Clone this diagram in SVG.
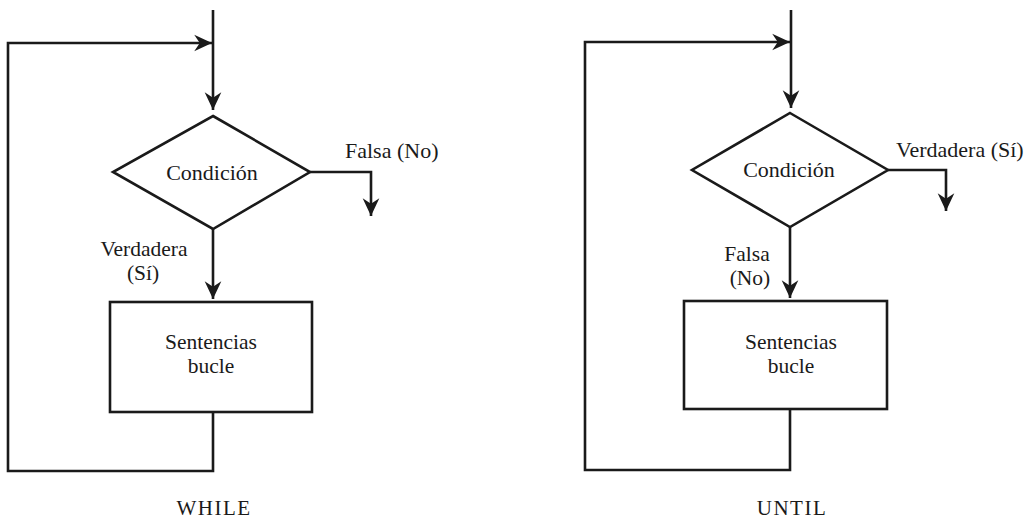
<svg xmlns="http://www.w3.org/2000/svg" width="1030" height="518" viewBox="0 0 1030 518">
  <style>
    .shape { fill: none; stroke: #1a1a1a; stroke-width: 2.6; }
    .line { fill: none; stroke: #1a1a1a; stroke-width: 2.6; stroke-linejoin: miter; }
    .arrow { marker-end: url(#head); }
    text { font-family: 'Liberation Serif', 'DejaVu Serif', serif; font-size: 22px; fill: #1a1a1a; }
    .mid { text-anchor: middle; }
    .stack { font-size: 21.5px; }
    .title { font-size: 21px; letter-spacing: 1.5px; }
  </style>
  <defs>
    <marker id="head" markerUnits="userSpaceOnUse" markerWidth="20" markerHeight="18" viewBox="-17 -8 18 16" refX="0" refY="0" orient="auto">
      <path d="M0,0 L-16,-7.5 L-11,0 L-16,7.5 Z" fill="#1a1a1a"/>
    </marker>
  </defs>

  <rect width="1030" height="518" fill="#ffffff"/>

  <g font-family="'Liberation Serif', 'DejaVu Serif', serif">
    <!-- WHILE loop -->
    <g id="while-condition">
      <polygon class="shape" points="213,116 310,172 213,229 113,172"/>
      <text class="mid" x="212" y="180">Condición</text>
    </g>
    <g id="while-body">
      <rect class="shape" x="110" y="302" width="202" height="110"/>
      <text class="mid stack" x="211" y="349">Sentencias</text>
      <text class="mid stack" x="211" y="373">bucle</text>
    </g>
    <g id="while-labels">
      <text x="345" y="158">Falsa (No)</text>
      <text class="mid stack" x="144" y="256">Verdadera</text>
      <text class="mid stack" x="143" y="280">(Sí)</text>
      <text class="mid title" x="214" y="515">WHILE</text>
    </g>

    <!-- UNTIL loop -->
    <g id="until-condition">
      <polygon class="shape" points="790,113 888,170 790,227 692,170"/>
      <text class="mid" x="789" y="177">Condición</text>
    </g>
    <g id="until-body">
      <rect class="shape" x="684" y="301" width="203" height="108"/>
      <text class="mid stack" x="791" y="349">Sentencias</text>
      <text class="mid stack" x="791" y="373">bucle</text>
    </g>
    <g id="until-labels">
      <text x="896" y="157">Verdadera (Sí)</text>
      <text class="mid stack" x="747" y="261">Falsa</text>
      <text class="mid stack" x="750" y="285">(No)</text>
      <text class="mid title" x="792" y="515">UNTIL</text>
    </g>
  </g>

  <g id="connectors">
    <!-- WHILE -->
    <path class="line arrow" d="M213,10 L213,110"/>
    <path class="line arrow" d="M310,172 L371,172 L371,216"/>
    <path class="line arrow" d="M213,229 L213,299"/>
    <path class="line arrow" d="M213,412 L213,471 L8,471 L8,43 L212,43"/>
    <!-- UNTIL -->
    <path class="line arrow" d="M791,10 L791,108"/>
    <path class="line arrow" d="M888,170 L946,170 L946,211"/>
    <path class="line arrow" d="M790,227 L790,298"/>
    <path class="line arrow" d="M790,409 L790,470 L585,470 L585,42 L790,42"/>
  </g>
</svg>
